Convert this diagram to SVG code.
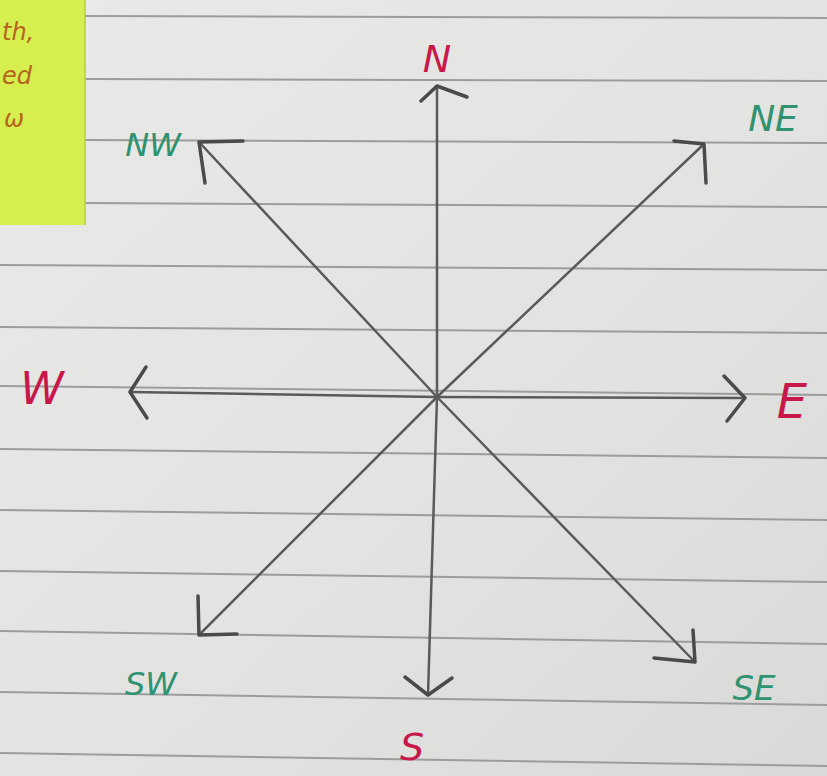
<svg xmlns="http://www.w3.org/2000/svg" width="827" height="776" viewBox="0 0 827 776">
<defs>
<linearGradient id="paper" x1="0" y1="0" x2="1" y2="1">
<stop offset="0" stop-color="#e9e9e7"/>
<stop offset="0.6" stop-color="#e2e2e0"/>
<stop offset="1" stop-color="#d9d9d7"/>
</linearGradient>
</defs>
<style>
.rule{stroke:#9c9c9c;stroke-width:2;fill:none}
.ax{stroke:#5a5a5a;stroke-width:2.5;fill:none;stroke-linecap:round;stroke-linejoin:round}
.hd{stroke:#4a4a4a;stroke-width:3.5;fill:none;stroke-linecap:round;stroke-linejoin:round}
.card{font-family:"DejaVu Sans",sans-serif;font-style:italic;fill:#c8174a;font-weight:300}
.inter{font-family:"DejaVu Sans",sans-serif;font-style:italic;fill:#2f9270}
.note{font-family:"DejaVu Sans",sans-serif;font-style:italic;fill:#b5651d;font-size:24px}
</style>
<rect width="827" height="776" fill="url(#paper)"/>
<g id="rules">
<line class="rule" x1="85" y1="16" x2="827" y2="18"/>
<line class="rule" x1="85" y1="79" x2="827" y2="81"/>
<line class="rule" x1="85" y1="140" x2="827" y2="143"/>
<line class="rule" x1="85" y1="203" x2="827" y2="207"/>
<line class="rule" x1="0" y1="265" x2="827" y2="270"/>
<line class="rule" x1="0" y1="327" x2="827" y2="333"/>
<line class="rule" x1="0" y1="386" x2="827" y2="395"/>
<line class="rule" x1="0" y1="449" x2="827" y2="458"/>
<line class="rule" x1="0" y1="510" x2="827" y2="520"/>
<line class="rule" x1="0" y1="571" x2="827" y2="582"/>
<line class="rule" x1="0" y1="631" x2="827" y2="644"/>
<line class="rule" x1="0" y1="692" x2="827" y2="705"/>
<line class="rule" x1="0" y1="753" x2="827" y2="766"/>
</g>
<g id="sticky-note">
<rect x="0" y="0" width="85" height="225" fill="#d6ee4e"/>
<line x1="85" y1="0" x2="85" y2="225" stroke="#b9cf3c" stroke-width="1.5"/>
<text class="note" x="2" y="40">th,</text>
<text class="note" x="2" y="84">ed</text>
<text class="note" x="4" y="127">ω</text>
</g>
<g id="connectors">
<line class="ax" x1="437" y1="397" x2="437" y2="86"/>
<line class="ax" x1="437" y1="397" x2="428" y2="695"/>
<line class="ax" x1="437" y1="397" x2="745" y2="398"/>
<line class="ax" x1="437" y1="397" x2="130" y2="392"/>
<line class="ax" x1="437" y1="397" x2="704" y2="144"/>
<line class="ax" x1="437" y1="397" x2="199" y2="142"/>
<line class="ax" x1="437" y1="397" x2="199" y2="635"/>
<line class="ax" x1="437" y1="397" x2="695" y2="662"/>
<polyline class="hd" points="421,101 437,86 467,97"/>
<polyline class="hd" points="405,677 428,695 452,678"/>
<polyline class="hd" points="724,376 745,398 727,421"/>
<polyline class="hd" points="146,367 130,392 147,418"/>
<polyline class="hd" points="674,141 704,144 706,183"/>
<polyline class="hd" points="243,141 199,142 205,183"/>
<polyline class="hd" points="198,596 199,635 237,634"/>
<polyline class="hd" points="693,630 695,662 654,658"/>
</g>
<g id="N"><text class="card" x="437" y="72" font-size="38" text-anchor="middle">N</text></g>
<g id="S"><text class="card" x="412" y="760" font-size="38" text-anchor="middle">S</text></g>
<g id="E"><text class="card" x="792" y="418" font-size="48" text-anchor="middle">E</text></g>
<g id="W"><text class="card" x="42" y="404" font-size="44" text-anchor="middle">W</text></g>
<g id="NE"><text class="inter" x="773" y="131" font-size="36" text-anchor="middle">NE</text></g>
<g id="NW"><text class="inter" x="153" y="156" font-size="32" text-anchor="middle">NW</text></g>
<g id="SW"><text class="inter" x="151" y="695" font-size="32" text-anchor="middle">SW</text></g>
<g id="SE"><text class="inter" x="754" y="700" font-size="34" text-anchor="middle">SE</text></g>
</svg>
